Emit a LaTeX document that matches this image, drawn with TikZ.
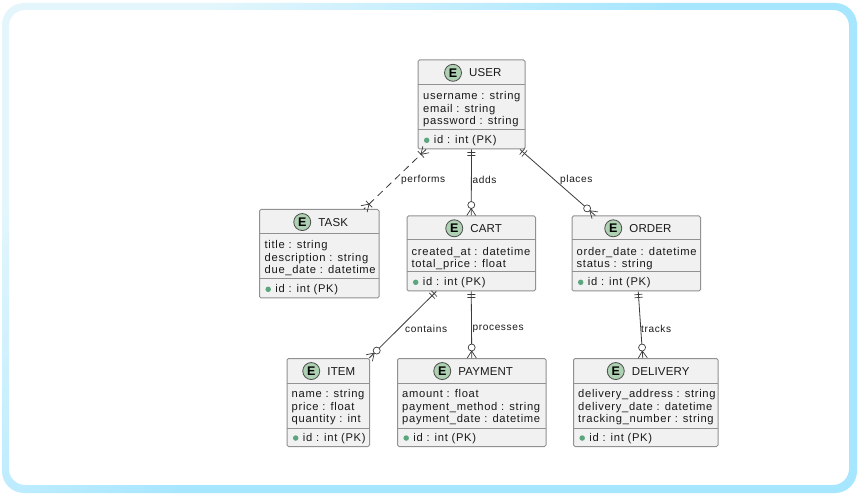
\documentclass[tikz,border=0pt]{standalone}
\usepackage{fontspec}
\setmainfont[LetterSpace=6]{Liberation Sans}
\newfontfamily\titlefont[LetterSpace=1]{Liberation Sans}
\usetikzlibrary{calc,decorations.markings}
\definecolor{boxfill}{HTML}{F2F1F2}
\definecolor{boxline}{HTML}{929092}
\definecolor{inkline}{HTML}{3A3A3A}
\definecolor{badge}{HTML}{ADD1B2}
\definecolor{pkdot}{HTML}{5BA57F}
\definecolor{framepale}{HTML}{E4F6FC}
\definecolor{framefull}{HTML}{A6E6FF}
\tikzset{
  entitybox/.style={draw=boxline,fill=boxfill,rounded corners=1.5pt,line width=1pt,inner sep=0pt},
  titletext/.style={font=\titlefont\fontsize{11.5}{13}\selectfont,text=black!90,inner sep=0pt},
  rowtext/.style={font=\fontsize{11.2}{12.7}\selectfont,text=black!90,anchor=north west,inner sep=0pt,align=left},
  badgeicon/.style={circle,draw=black!70,fill=badge,line width=0.8pt,minimum size=17pt,inner sep=0pt,font=\titlefont\fontsize{12.5}{12.5}\bfseries\selectfont},
  linktext/.style={font=\fontsize{10.1}{12}\selectfont,text=black!90,anchor=west,inner sep=0pt},
  link/.style={draw=inkline,line width=0.8pt},
  onestart/.style={postaction={decorate,decoration={markings,mark=at position 0 with {
    \draw[solid,inkline,line width=0.7pt] (3,-4) -- (3,4) (6,-4) -- (6,4);}}}},
  manystart/.style={postaction={decorate,decoration={markings,mark=at position 0 with {
    \draw[solid,inkline,line width=0.7pt] (0,-4.5) -- (7,0) -- (0,4.5) (7,-4.5) -- (7,4.5);}}}},
  manyend/.style={postaction={decorate,decoration={markings,mark=at position 1 with {
    \draw[solid,inkline,line width=0.7pt] (0,-4.5) -- (-7,0) -- (0,4.5) (-7,-4.5) -- (-7,4.5);}}}},
  zeroend/.style={postaction={decorate,decoration={markings,mark=at position 1 with {
    \draw[solid,inkline,line width=0.7pt] (0,-4.5) -- (-7,0) -- (0,4.5);
    \draw[solid,inkline,fill=white,line width=0.7pt] (-10.5,0) circle [radius=3.5];}}}},
}
% name, left, right, top, header line, divider, bottom, title, title offset
\newcommand{\entity}[9]{
  \node[entitybox,minimum width=#3pt-#2pt,minimum height=#7pt-#4pt] (#1) at ({(#2+#3)/2},{(#4+#7)/2}) {};
  \draw[boxline,line width=1pt] (#2,#5) -- (#3,#5) (#2,#6) -- (#3,#6);
  \node[titletext,anchor=west] (#1title) at ({(#2+#3)/2-#9},{(#4+#5)/2+0.3}) {#8};
  \node[badgeicon] (#1badge) at ($(#1title.west)+(-16,0)$) {E};
  \node[circle,fill=pkdot,minimum size=5.5pt,inner sep=0pt] (#1dot) at (#2+8.7,{(#6+#7)/2+0.8}) {};
  \node[rowtext,anchor=west] (#1key) at (#2+15.7,{(#6+#7)/2+1.3}) {id : int (PK)};
}
\begin{document}
\begin{tikzpicture}[x=1pt,y=-1pt]
  \useasboundingbox (0,0) rectangle (860,497);
  \fill[white] (0,0) rectangle (860,497);
  \path[even odd rule,rounded corners=22pt,left color=framepale,right color=framefull,middle color=framefull,shading angle=45]
    (2,3) rectangle (857,493) [rounded corners=16pt] (9,10) rectangle (849,485);

  \entity{user}{418}{525}{60}{85}{130}{149}{USER}{2.5}
  \entity{task}{259.5}{379}{209.5}{234}{279}{298}{TASK}{1}
  \entity{cart}{407}{535.5}{216}{240}{272}{291}{CART}{1}
  \entity{order}{572}{700.5}{216}{240}{272}{291}{ORDER}{7}
  \entity{item}{287}{369.5}{358.5}{383}{428}{446.5}{ITEM}{1}
  \entity{payment}{397.5}{546}{358.5}{383}{428}{446.5}{PAYMENT}{13.5}
  \entity{delivery}{573.5}{718}{358.5}{383}{428}{446.5}{DELIVERY}{14}

  \node[rowtext] (userrows) at (423,91) {username : string\\email : string\\password : string};
  \node[rowtext] (taskrows) at (264.5,240) {title : string\\description : string\\due\_date : datetime};
  \node[rowtext] (cartrows) at (411.5,246.7) {created\_at : datetime\\total\_price : float};
  \node[rowtext] (orderrows) at (576.5,246.7) {order\_date : datetime\\status : string};
  \node[rowtext] (itemrows) at (291.5,389) {name : string\\price : float\\quantity : int};
  \node[rowtext] (paymentrows) at (402,389) {amount : float\\payment\_method : string\\payment\_date : datetime};
  \node[rowtext] (deliveryrows) at (578,389) {delivery\_address : string\\delivery\_date : datetime\\tracking\_number : string};

  \path[link,dash pattern=on 7pt off 5pt,manystart,manyend] ($(user.south)+(-45.5,0)$) -- ($(task.north)+(44.7,0)$);
  \path[link,onestart,zeroend] (user.south) -- (cart.north);
  \path[link,onestart,zeroend] ($(user.south)+(48.5,0)$) -- ($(order.north)+(-41,0)$);
  \path[link,onestart,zeroend] ($(cart.south)+(-35,0)$) -- ($(item.north)+(41,0)$);
  \path[link,onestart,zeroend] (cart.south) -- (payment.north);
  \path[link,onestart,zeroend] ($(order.south)+(2,0)$) -- ($(delivery.north)+(-3,0)$);

  \node[linktext] (performs) at (401,180) {performs};
  \node[linktext] (adds) at (472.5,180) {adds};
  \node[linktext] (places) at (560,180) {places};
  \node[linktext] (contains) at (405,329) {contains};
  \node[linktext] (processes) at (472.5,329) {processes};
  \node[linktext] (tracks) at (641,329) {tracks};
\end{tikzpicture}
\end{document}
